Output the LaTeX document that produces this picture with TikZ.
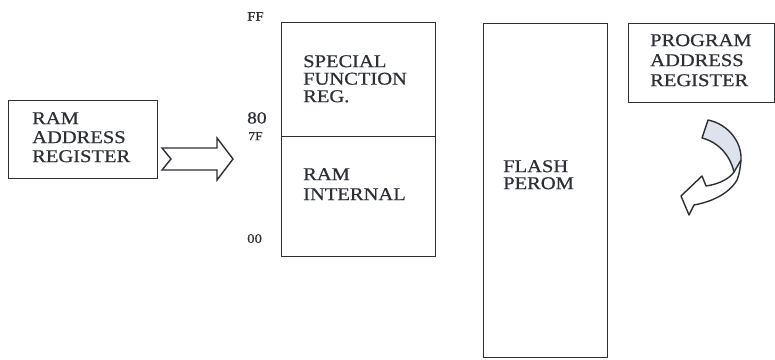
\documentclass[tikz,border=0pt]{standalone}
\usepackage{fontspec}
\setmainfont{Liberation Serif}[FakeStretch=1.14,FakeBold=0.6]
\definecolor{ink}{HTML}{2B2F36}
\definecolor{twist}{HTML}{DCE3EC}
\begin{document}
\begin{tikzpicture}[x=1pt,y=-1pt,
  box/.style={draw=ink, line width=1.4pt, rectangle, inner sep=0pt, anchor=north west},
  lbl/.style={text=ink, align=left, anchor=north west, inner sep=0pt, font=\fontsize{18}{19}\selectfont},
  addr/.style={text=ink, inner sep=0pt, anchor=north west, font=\fontsize{13}{14}\selectfont},
  shapeline/.style={draw=ink, line width=1.4pt, line join=miter}]
\useasboundingbox (0,0) rectangle (775,359);
\fill[white] (0,0) rectangle (775,359);
% boxes
\node[box, minimum width=149pt, minimum height=78pt] (rar) at (8,100) {};
\node[lbl] (rart) at (32,112) {RAM\\ADDRESS\\REGISTER};
\node[box, minimum width=154pt, minimum height=114pt] (sfr) at (281,22) {};
\node[box, minimum width=154pt, minimum height=120pt] (ram) at (281,136) {};
\node[lbl, font=\fontsize{18}{17.5}\selectfont] (sfrt) at (303,55) {SPECIAL\\FUNCTION\\REG.};
\node[lbl, font=\fontsize{18}{20}\selectfont] (ramt) at (303,168) {RAM\\INTERNAL};
\node[box, minimum width=124pt, minimum height=334pt] (flash) at (483,23) {};
\node[lbl, font=\fontsize{18}{17}\selectfont] (flasht) at (503,160) {FLASH\\PEROM};
\node[box, minimum width=146pt, minimum height=79pt] (par) at (628,23) {};
\node[lbl, font=\fontsize{18}{20}\selectfont] (part) at (650,34) {PROGRAM\\ADDRESS\\REGISTER};
% address labels
\node[addr] (ff) at (247,12) {FF};
\node[addr, font=\fontsize{17}{18}\selectfont] (a80) at (247,112) {80};
\node[addr, font=\fontsize{12}{13}\selectfont] (a7f) at (248,132) {7F};
\node[addr] (a00) at (247,234) {00};
% block arrow
\draw[shapeline, fill=white] (162,148) -- (217,148) -- (217,138) -- (233,159) -- (217,180) -- (217,170) -- (162,170) -- (171,159) -- cycle;
% curved arrow
\path[fill=white] (702,138) -- (708,120) .. controls (728,124) and (742,142) .. (741,160)
  .. controls (740,170) and (739,175) .. (737,180)
  .. controls (728,195) and (710,202) .. (694,205) -- (689,215) -- (681,196) -- (702,176) -- (706,186)
  .. controls (720,184) and (730,178) .. (734,172)
  .. controls (730,155) and (718,142) .. (702,138) -- cycle;
\fill[twist] (702,138) -- (708,120) .. controls (728,124) and (742,142) .. (741,160)
  -- (734,172) .. controls (730,155) and (718,142) .. (702,138) -- cycle;
\draw[shapeline, line join=round] (702,138) -- (708,120) .. controls (728,124) and (742,142) .. (741,160)
  .. controls (740,170) and (739,175) .. (737,180)
  .. controls (728,195) and (710,202) .. (694,205) -- (689,215) -- (681,196) -- (702,176) -- (706,186)
  .. controls (720,184) and (730,178) .. (734,172)
  .. controls (730,155) and (718,142) .. (702,138) -- cycle;
\draw[shapeline] (741,160) -- (734,172);
\end{tikzpicture}
\end{document}
